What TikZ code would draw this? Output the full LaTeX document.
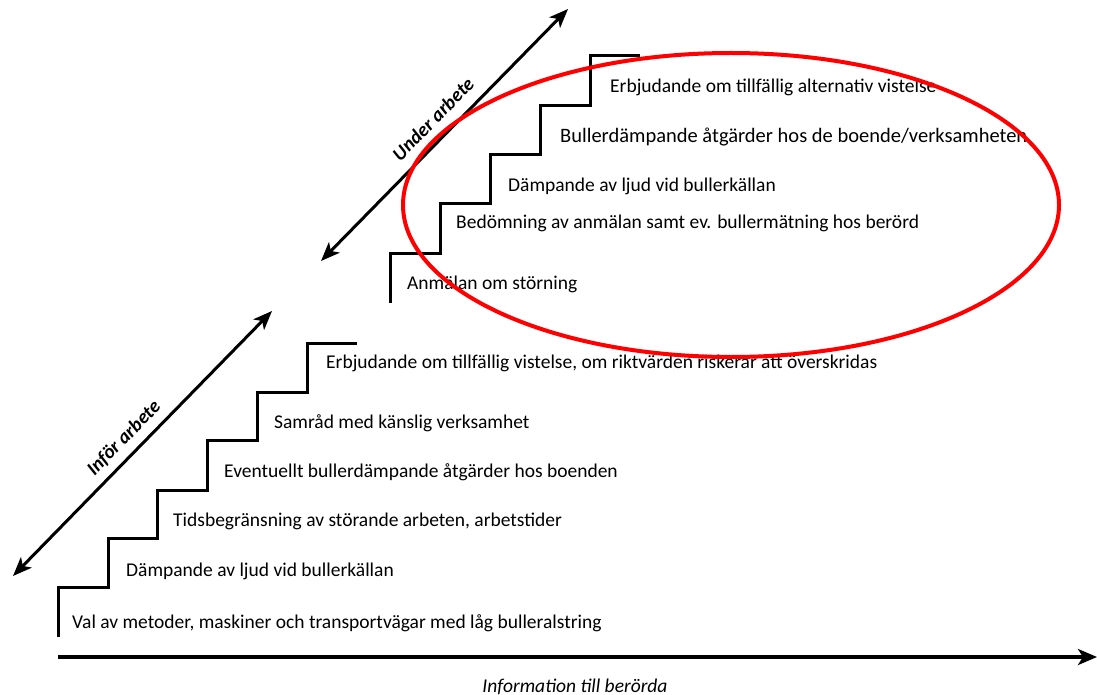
\documentclass[tikz,border=0pt]{standalone}
\usepackage{fontspec}
\setmainfont{Carlito}
\usetikzlibrary{arrows.meta}
\begin{document}
\begin{tikzpicture}[x=1pt,y=-1pt,
  stair/.style={line width=3pt,line join=miter},
  steptext/.style={anchor=base west,inner sep=0pt,font=\fontsize{19.5}{23}\selectfont},
  phaselabel/.style={inner sep=1pt,font=\fontsize{19.5}{23}\selectfont\itshape\bfseries},
  bigarrow/.style={line width=3pt,{Stealth[length=19pt,width=15pt,inset=5pt]}-{Stealth[length=19pt,width=15pt,inset=5pt]}},
  ]
\useasboundingbox (0,0) rectangle (1097,695);

% lower stairs
\draw [stair] (58,637) -- (58,587) -- (108,587) -- (108,538) -- (157,538) -- (157,490)
  -- (207,490) -- (207,440) -- (257,440) -- (257,392) -- (307,392) -- (307,343) -- (357,343);
% upper stairs
\draw [stair] (390,303) -- (390,253) -- (440,253) -- (440,204) -- (490,204) -- (490,155)
  -- (540,155) -- (540,106) -- (590,106) -- (590,56) -- (640,56);

\node [steptext] (val) at (72,628) {Val av metoder, maskiner och transportvägar med låg bulleralstring};
\node [steptext] (dampa) at (126,576) {Dämpande av ljud vid bullerkällan};
\node [steptext] (tids) at (173,526) {Tidsbegränsning av störande arbeten, arbetstider};
\node [steptext] (event) at (224,477) {Eventuellt bullerdämpande åtgärder hos boenden};
\node [steptext] (samrad) at (274,428) {Samråd med känslig verksamhet};
\node [steptext] (erbja) at (326,368) {Erbjudande om tillfällig vistelse, om riktvärden riskerar att överskridas};

\node [steptext] (anmal) at (407,289) {Anmälan om störning};
\node [steptext] (bedom) at (456,228) {Bedömning av anmälan samt ev. bullermätning hos berörd};
\node [steptext] (dampb) at (508,192) {Dämpande av ljud vid bullerkällan};
\node [steptext,font=\fontsize{20.5}{23}\selectfont] (buller) at (560,143) {Bullerdämpande åtgärder hos de boende/verksamheten};
\node [steptext] (erbjb) at (610,93) {Erbjudande om tillfällig alternativ vistelse};

% phase arrows
\coordinate (infora) at (13,576);
\coordinate (inforb) at (272,311);
\coordinate (undera) at (321,261);
\coordinate (underb) at (568,9);
\draw [bigarrow] (infora) -- (inforb);
\draw [bigarrow] (undera) -- (underb);
\node [phaselabel,rotate=45.7] (infor) at (124,438) {Inför arbete};
\node [phaselabel,rotate=45.6] (under) at (433,119) {Under arbete};

% information axis
\coordinate (infostart) at (58,657);
\coordinate (infoend) at (1097,657);
\draw [line width=3.5pt,-{Stealth[length=19pt,width=16pt,inset=5pt]}] (infostart) -- (infoend);
\node [anchor=base,inner sep=0pt,font=\fontsize{19.5}{23}\selectfont\itshape] (info) at (575,692) {Information till berörda};

% red ellipse
\draw [red,line width=4pt] (731,205) ellipse [x radius=328,y radius=152];
\end{tikzpicture}
\end{document}
